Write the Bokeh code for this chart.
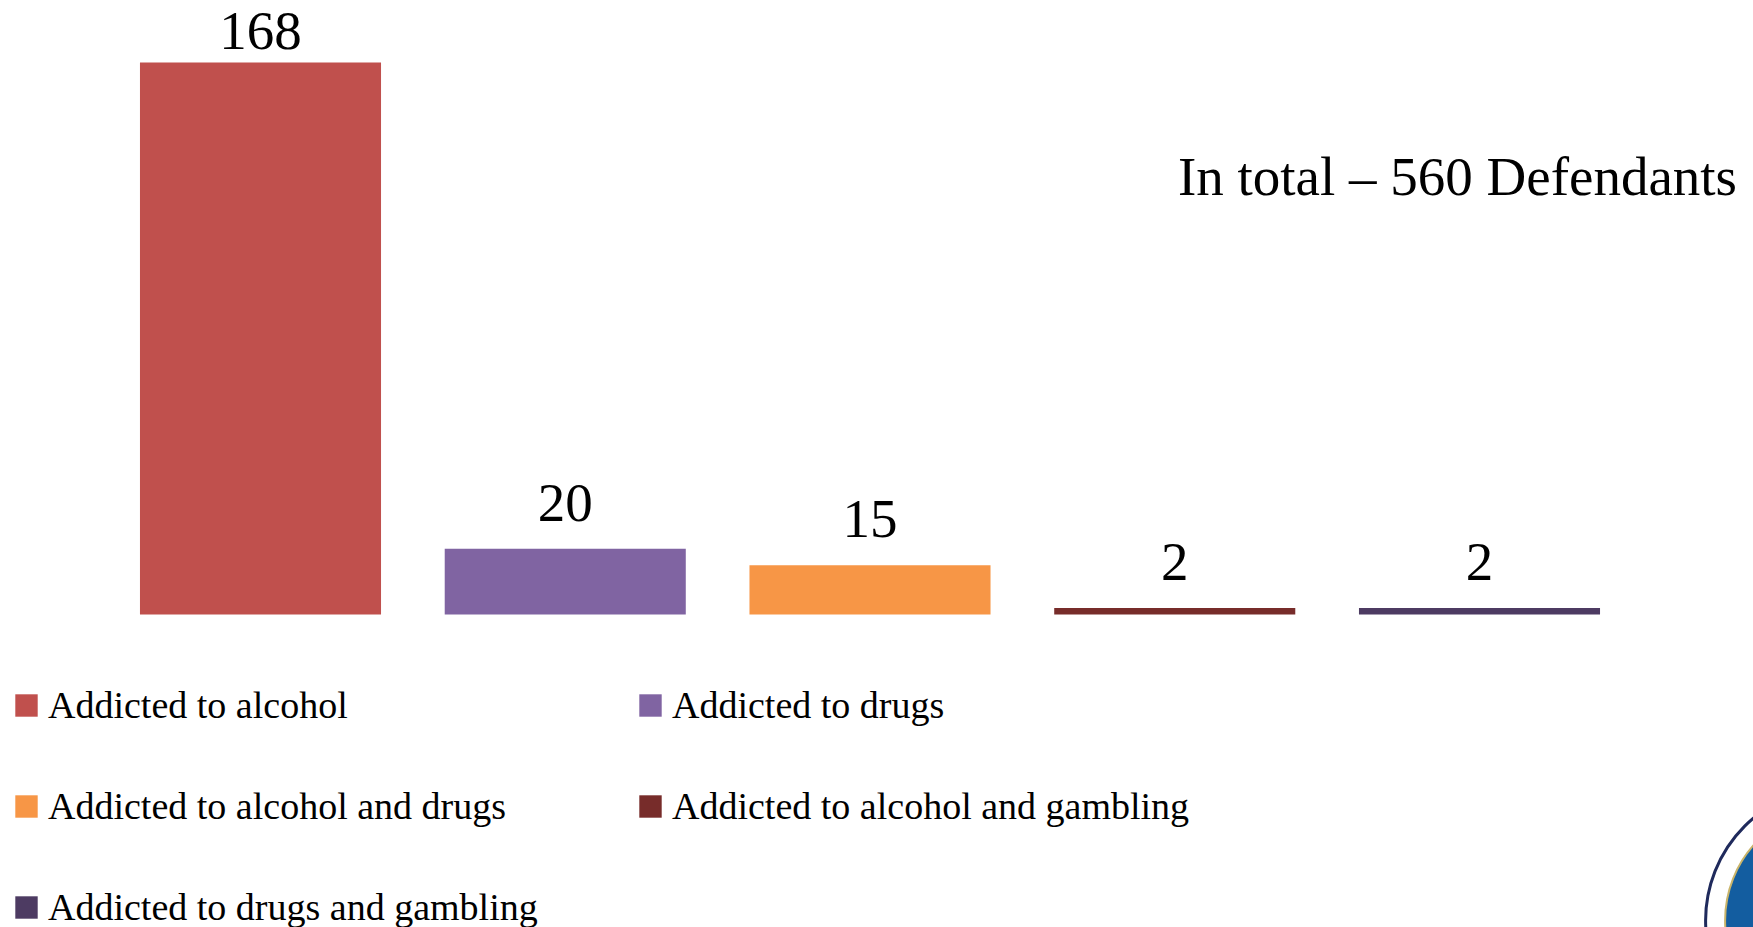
from bokeh.plotting import figure
from bokeh.models import ColumnDataSource, Range1d, Label
from bokeh.embed import file_html
from bokeh.resources import INLINE

# ---- data ----
categories = [
    "Addicted to alcohol",
    "Addicted to drugs",
    "Addicted to alcohol and drugs",
    "Addicted to alcohol and gambling",
    "Addicted to drugs and gambling",
]
counts = [168, 20, 15, 2, 2]
colors = ["#C0504D", "#8064A2", "#F79646", "#772C2A", "#4D3B62"]
total_label = "In total \u2013 560 Defendants"

# ---- layout constants ----
FONT = "Liberation Serif"
W, H = 1753, 927
PX_PER_CAT = 304.75
PX_PER_UNIT = 3.2857
X0_PX = 260      # px from left of first category centre
BASE_PX = 313    # px from bottom of the zero line

x_start = -X0_PX / PX_PER_CAT
x_end = x_start + W / PX_PER_CAT
y_start = -BASE_PX / PX_PER_UNIT
y_end = y_start + H / PX_PER_UNIT

idx = list(range(len(categories)))
LABEL_GAP = 46 / PX_PER_UNIT
LABEL_CEIL = y_end - 30.5 / PX_PER_UNIT
label_y = [min(c + LABEL_GAP, LABEL_CEIL) for c in counts]

source = ColumnDataSource(dict(
    x=idx, top=counts, color=colors, category=categories,
    label=[str(c) for c in counts], label_y=label_y,
))

p = figure(width=W, height=H,
           x_range=Range1d(x_start, x_end), y_range=Range1d(y_start, y_end),
           x_axis_location=None, y_axis_location=None,
           output_backend="svg", toolbar_location=None, min_border=0)
p.grid.visible = False
p.outline_line_color = None
p.background_fill_color = "white"
p.border_fill_color = "white"

p.vbar(x="x", top="top", bottom=0, width=0.791, fill_color="color",
       line_color=None, source=source, legend_field="category")

p.text(x="x", y="label_y", text="label", source=source,
       text_align="center", text_baseline="middle",
       text_font_size="55px", text_color="black", text_font=FONT)

p.add_layout(Label(x=1736.5, y=H - 176, x_units="screen", y_units="screen",
                   text=total_label, text_align="right",
                   text_baseline="middle", text_font=FONT,
                   text_font_size="55px", text_color="black"))

# decorative seal, partly outside the page (bottom-right)
seal_x = x_start + 1838.6 / PX_PER_CAT
seal_y = y_start + (H - 920) / PX_PER_UNIT
p.scatter(x=[seal_x], y=[seal_y], size=267, marker="circle",
          fill_color="white", line_color="#1F2A5C", line_width=3)
p.scatter(x=[seal_x], y=[seal_y], size=228, marker="circle",
          fill_color="#135DA0", line_color="#C9B46A", line_width=2)

leg = p.legend[0]
leg.orientation = "horizontal"
leg.ncols = 2
leg.location = (12, -10)
leg.padding = 0
leg.margin = 0
leg.spacing = 41
leg.glyph_width = 28
leg.glyph_height = 28
leg.label_standoff = 8
leg.label_width = 547
leg.label_height = 60
leg.label_text_font = FONT
leg.label_text_font_size = "38px"
leg.label_text_color = "black"
leg.border_line_color = None
leg.background_fill_alpha = 0

open("out.html", "w").write(file_html(p, INLINE))
